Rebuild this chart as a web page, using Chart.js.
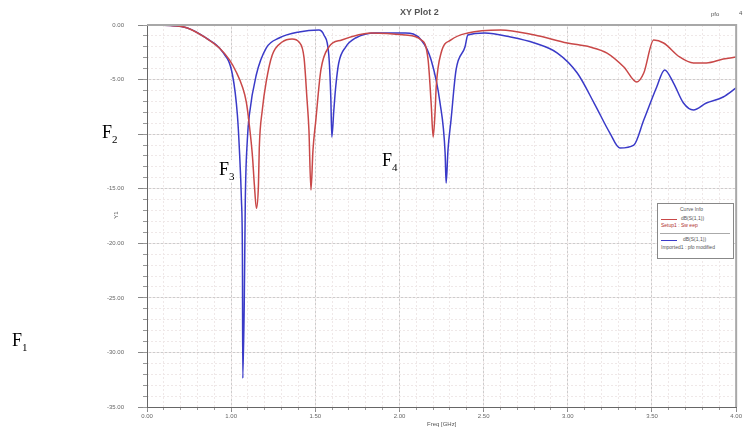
<!DOCTYPE html>
<html>
<head>
<meta charset="utf-8">
<script src="https://cdn.jsdelivr.net/npm/chart.js@4"></script>
<style>
    body { margin: 0; background: #fff; }
    #wrap { position: relative; width: 743px; height: 428px; overflow: hidden; }
    .ann { position: absolute; font-family: "Liberation Serif", "DejaVu Serif", serif; font-size: 18px; color: #000; line-height: 1; background: #fff; padding: 0 1px; }
    .ann sub { font-size: 11px; }
    .tiny { position: absolute; font-family: "Liberation Sans", Arial, sans-serif; color: #555; white-space: nowrap; line-height: 1; }
    #legendBox { position: absolute; left: 657px; top: 203px; width: 75px; height: 54px; border: 1px solid #888; background: #fff; }
</style>
</head>
<body>
<div id="wrap">
    <canvas id="chart" width="743" height="428"></canvas>

    <div class="tiny" style="left:400px;top:8px;font-size:9px;font-weight:bold;color:#555">XY Plot 2</div>
    <div class="tiny" style="left:711px;top:11px;font-size:6px">pfo</div>
    <div class="tiny" style="left:739px;top:10px;font-size:6px">4</div>
    <div class="tiny" style="left:112px;top:212px;font-size:6px;transform:rotate(-90deg)">Y1</div>
    <div class="tiny" style="left:427px;top:421px;font-size:6px">Freq [GHz]</div>

    <div class="ann" style="left:11px;top:331px">F<sub>1</sub></div>
    <div class="ann" style="left:94px;top:123px;padding:0 9px 0 8px">F<sub>2</sub></div>
    <div class="ann" style="left:218px;top:160px">F<sub>3</sub></div>
    <div class="ann" style="left:381px;top:151px">F<sub>4</sub></div>

    <div id="legendBox">
        <div class="tiny" style="left:22px;top:3px;font-size:5px">Curve Info</div>
        <div style="position:absolute;left:3px;top:15px;width:16px;border-top:1px solid #c94848"></div>
        <div class="tiny" style="left:23px;top:12px;font-size:5px">dB(S(1,1))</div>
        <div class="tiny" style="left:3px;top:19px;font-size:5px;color:#b03030">Setup1 : Sw eep</div>
        <div style="position:absolute;left:2px;top:29px;width:70px;border-top:1px solid #aaa"></div>
        <div style="position:absolute;left:3px;top:36px;width:16px;border-top:1px solid #3a3ac8"></div>
        <div class="tiny" style="left:25px;top:33px;font-size:5px">dB(S(1,1))</div>
        <div class="tiny" style="left:3px;top:41px;font-size:5px">Imported1 : pfo modified</div>
    </div>
</div>

<script>
// ===== DATA =====
const X_TICK_LABELS = ['0.00', '1.00', '1.50', '2.00', '2.50', '3.00', '3.50', '4.00'];

const redFreq = [0.50, 0.64, 0.74, 0.85, 0.93, 0.99, 1.03, 1.067, 1.09, 1.108, 1.126, 1.138, 1.150, 1.162, 1.167, 1.185, 1.208, 1.244, 1.303, 1.362,
    1.403, 1.433, 1.450, 1.462, 1.474, 1.486, 1.503, 1.533, 1.580, 1.657, 1.834, 2.035, 2.129, 2.170, 2.188, 2.200, 2.212, 2.218, 2.247, 2.306,
    2.406, 2.601, 2.802, 2.997, 3.132, 3.233, 3.333, 3.410, 3.451, 3.510, 3.569, 3.664, 3.746, 3.823, 3.923, 4.00];
const redDb = [0.00, -0.05, -0.27, -1.19, -2.11, -3.2, -4.31, -5.68, -7.06, -9.17, -11.92, -14.67, -16.8, -14.67, -11.27, -7.79, -5.22, -2.75, -1.56, -1.28,
    -1.56, -3.02, -6.69, -9.62, -15.12, -11.46, -8.71, -4.12, -2.02, -1.37, -0.73, -0.92, -1.37, -3.21, -7.15, -10.27, -7.79, -5.68, -2.57, -1.37,
    -0.73, -0.46, -0.92, -1.65, -2.02, -2.57, -3.85, -5.22, -4.40, -1.37, -1.65, -2.93, -3.48, -3.48, -3.12, -2.93];

const blueFreq = [0.50, 0.64, 0.74, 0.85, 0.949, 1.008, 1.037, 1.049, 1.061, 1.067, 1.069, 1.078, 1.084, 1.096, 1.108, 1.149, 1.208, 1.285, 1.403, 1.521,
    1.551, 1.580, 1.592, 1.598, 1.610, 1.621, 1.639, 1.680, 1.739, 1.857, 2.035, 2.129, 2.188, 2.241, 2.271, 2.277, 2.288, 2.306, 2.336, 2.389,
    2.406, 2.507, 2.660, 2.802, 2.938, 3.056, 3.156, 3.250, 3.309, 3.392, 3.451, 3.528, 3.575, 3.628, 3.687, 3.746, 3.823, 3.923, 4.00];
const blueDb = [0.00, -0.05, -0.27, -1.19, -2.47, -4.58, -8.25, -11.46, -16.04, -21.54, -32.36, -25.2, -16.04, -10.54, -8.25, -4.58, -2.11, -1.19, -0.64, -0.46,
    -0.92, -2.75, -6.69, -10.27, -7.79, -5.68, -3.48, -2.02, -1.19, -0.73, -0.73, -1.37, -3.21, -7.15, -11.73, -14.48, -11.46, -8.71, -4.12, -2.02,
    -0.92, -0.73, -1.10, -1.65, -2.57, -4.40, -7.15, -9.90, -11.27, -11.0, -8.71, -5.68, -4.12, -5.32, -7.15, -7.79, -7.15, -6.60, -5.77];

const toPoints = (xs, ys) => xs.map((x, i) => ({ x: x, y: ys[i] }));

const tickFont = { family: 'Liberation Sans', size: 6 };

new Chart(document.getElementById('chart').getContext('2d'), {
    type: 'line',
    data: {
        datasets: [
            { label: 'Setup1 : Sw eep', data: toPoints(redFreq, redDb), borderColor: '#c94848', borderWidth: 1.5, cubicInterpolationMode: 'monotone' },
            { label: 'Imported1 : pfo modified', data: toPoints(blueFreq, blueDb), borderColor: '#3a3ac8', borderWidth: 1.5, cubicInterpolationMode: 'monotone' }
        ]
    },
    options: {
        responsive: false,
        animation: false,
        layout: { padding: { top: 25, right: 3, left: 0, bottom: 0 } },
        elements: { point: { radius: 0 } },
        plugins: { legend: { display: false }, tooltip: { enabled: false } },
        scales: {
            x: {
                type: 'linear', min: 0.5, max: 4, position: 'bottom', weight: 1,
                ticks: { stepSize: 0.5, autoSkip: false, maxRotation: 0, font: tickFont, color: '#666', padding: 1,
                    callback: (v, i) => X_TICK_LABELS[i] },
                grid: { color: '#cccccc', tickLength: 5, tickColor: '#888' },
                border: { color: '#666', width: 1 },
                afterFit: s => { s.height = 21; }
            },
            xMinor: {
                type: 'linear', min: 0.5, max: 4, position: 'bottom', weight: 0,
                ticks: { stepSize: 0.1, display: false },
                grid: { color: '#efe8e8', tickLength: 3, tickColor: '#999' },
                border: { display: false, dash: [2, 2] },
                afterFit: s => { s.height = 0; }
            },
            y: {
                min: -35, max: 0, position: 'left', weight: 1,
                ticks: { stepSize: 5, font: tickFont, color: '#666', padding: 14, callback: v => v.toFixed(2) },
                grid: { color: '#cccccc', tickLength: 9, tickColor: '#888' },
                border: { color: '#666', width: 1 },
                afterFit: s => { s.width = 147; }
            },
            yMinor: {
                min: -35, max: 0, position: 'left', weight: 0,
                ticks: { stepSize: 1, display: false },
                grid: { color: '#efe8e8', tickLength: 4, tickColor: '#999' },
                border: { display: false, dash: [2, 2] },
                afterFit: s => { s.width = 0; }
            }
        }
    },
    plugins: [{
        // gray frame along the top and right of the plot
        id: 'frame',
        afterDraw(chart) {
            const { ctx, chartArea } = chart;
            ctx.save();
            ctx.strokeStyle = '#a8a8a8';
            ctx.lineWidth = 2;
            ctx.beginPath();
            ctx.moveTo(chartArea.left, chartArea.top);
            ctx.lineTo(chartArea.right, chartArea.top);
            ctx.lineTo(chartArea.right, chartArea.bottom);
            ctx.stroke();
            ctx.restore();
        }
    }]
});
</script>
</body>
</html>
